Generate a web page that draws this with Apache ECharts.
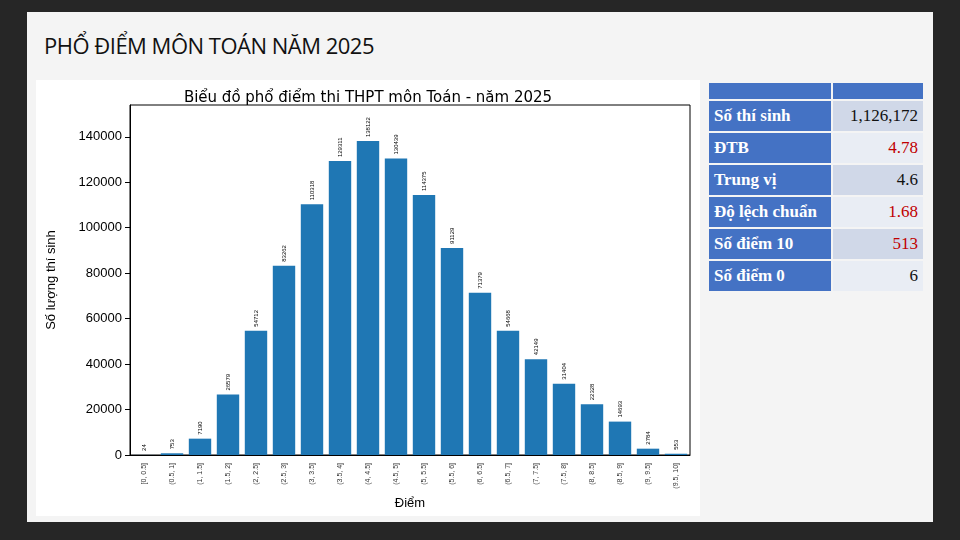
<!DOCTYPE html>
<html>
<head>
<meta charset="utf-8">
<script src="https://cdn.jsdelivr.net/npm/echarts@6/dist/echarts.min.js"></script>
<style>
  body { margin: 0; width: 960px; height: 540px; background: #262626; position: relative; overflow: hidden; font-family: "DejaVu Sans", sans-serif; }
  #slide { position: absolute; left: 27px; top: 12px; width: 906px; height: 510px; background: #f4f4f4; }
  #title { position: absolute; left: 44px; top: 30px; font-family: "Open Sans", sans-serif; font-size: 22px; color: #111; letter-spacing: -0.5px; }
  #chart { position: absolute; left: 36px; top: 80px; width: 664px; height: 436px; background: #fff; }
  #tbl { position: absolute; left: 707px; top: 81px; border-collapse: collapse; font-family: "Liberation Serif", serif; }
  #tbl td { height: 30px; border: 2px solid #f4f4f4; padding: 0 5px; font-size: 17px; }
  #tbl td.k { background: #4472c4; color: #fff; font-weight: bold; width: 112px; }
  #tbl td.v { text-align: right; width: 80px; color: #111; }
  #tbl tr.head td { height: 16px; background: #4472c4; }
  .odd td.v { background: #d0d8e8; }
  .even td.v { background: #e9edf4; }
  .red { color: #c00000 !important; }
</style>
</head>
<body>
<div id="slide"></div>
<div id="title">PHỔ ĐIỂM MÔN TOÁN NĂM 2025</div>
<div id="chart"></div>
<table id="tbl">
  <tr class="head"><td class="k"></td><td class="v" style="background:#4472c4"></td></tr>
  <tr class="odd"><td class="k">Số thí sinh</td><td class="v">1,126,172</td></tr>
  <tr class="even"><td class="k">ĐTB</td><td class="v red">4.78</td></tr>
  <tr class="odd"><td class="k">Trung vị</td><td class="v">4.6</td></tr>
  <tr class="even"><td class="k">Độ lệch chuẩn</td><td class="v red">1.68</td></tr>
  <tr class="odd"><td class="k">Số điểm 10</td><td class="v red">513</td></tr>
  <tr class="even"><td class="k">Số điểm 0</td><td class="v">6</td></tr>
</table>
<script>
const categories = ['[0, 0.5]', '(0.5, 1]', '(1, 1.5]', '(1.5, 2]', '(2, 2.5]', '(2.5, 3]', '(3, 3.5]', '(3.5, 4]', '(4, 4.5]', '(4.5, 5]',
    '(5, 5.5]', '(5.5, 6]', '(6, 6.5]', '(6.5, 7]', '(7, 7.5]', '(7.5, 8]', '(8, 8.5]', '(8.5, 9]', '(9, 9.5]', '(9.5, 10]'];
const counts = [24, 753, 7190, 26579, 54712, 83262, 110318, 129311, 138122, 130439,
    114375, 91129, 71379, 54668, 42149, 31404, 22328, 14693, 2784, 553];

const chart = echarts.init(document.getElementById('chart'));
chart.setOption({
    animation: false,
    title: {
        text: 'Biểu đồ phổ điểm thi THPT môn Toán - năm 2025',
        left: 'center', top: 6,
        textStyle: { fontFamily: 'DejaVu Sans', fontSize: 15, fontWeight: 'normal', color: '#000' }
    },
    grid: { left: 94, right: 10, top: 25, bottom: 61, show: true, borderColor: '#000', borderWidth: 1 },
    xAxis: {
        type: 'category', data: categories,
        name: 'Điểm', nameLocation: 'middle', nameGap: 42,
        nameTextStyle: { fontSize: 13, color: '#000' },
        axisLine: { lineStyle: { color: '#000' } },
        axisTick: { alignWithLabel: true, lineStyle: { color: '#000' } },
        axisLabel: { rotate: 90, fontSize: 7, color: '#333', interval: 0 }
    },
    yAxis: {
        type: 'value', min: 0, max: 154000, interval: 20000,
        name: 'Số lượng thí sinh', nameLocation: 'middle', nameGap: 72,
        nameTextStyle: { fontSize: 13, color: '#000' },
        splitLine: { show: false },
        axisLine: { show: true, lineStyle: { color: '#000' } },
        axisTick: { show: true, lineStyle: { color: '#000' } },
        axisLabel: { fontSize: 13, color: '#000', showMaxLabel: false, formatter: v => String(v) }
    },
    series: [{
        type: 'bar', data: counts, barCategoryGap: '20%',
        itemStyle: { color: '#1f77b4' },
        label: { show: true, position: 'top', rotate: 90, align: 'left', verticalAlign: 'middle', distance: 4, fontSize: 6, color: '#000' }
    }]
});
</script>
</body>
</html>
